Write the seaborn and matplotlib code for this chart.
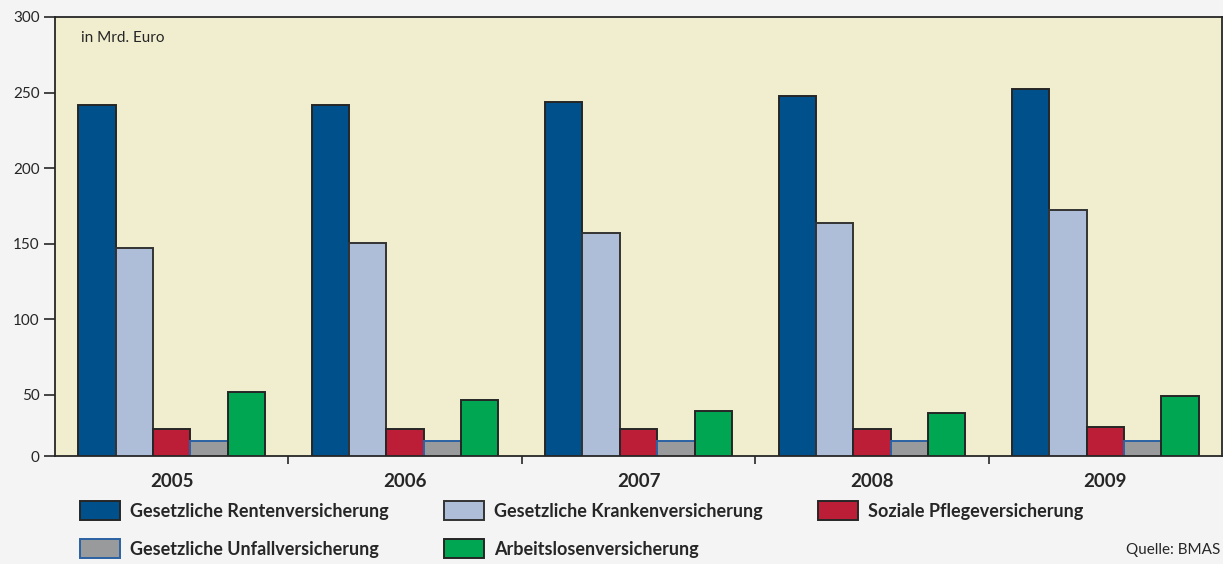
import matplotlib
matplotlib.use("Agg")
import matplotlib.pyplot as plt
import seaborn as sns
import pandas as pd
from matplotlib.patches import Patch

# values in Mrd. Euro
years = ["2005", "2006", "2007", "2008", "2009"]
rente = [242, 242, 243.5, 247.5, 252.5]
kranken = [147, 150.5, 157, 163.5, 172.5]
pflege = [27.5, 27.5, 27.5, 27.5, 29]
unfall = [19.5, 19.5, 19.5, 19.5, 19.5]
alo = [52, 46.5, 39, 38, 49.5]

series = ["Gesetzliche Rentenversicherung", "Gesetzliche Krankenversicherung",
          "Soziale Pflegeversicherung", "Gesetzliche Unfallversicherung",
          "Arbeitslosenversicherung"]
colors = ["#00508c", "#aebed9", "#bc1e38", "#999a9c", "#00a651"]
edges = ["#262626", "#333333", "#262626", "#2a62a3", "#262626"]

yticks = [50, 100, 150, 200, 250, 300]
y_base = 9.5  # the axis is cut: baseline labelled "0"

wide = pd.DataFrame({"Jahr": years, series[0]: rente, series[1]: kranken,
                     series[2]: pflege, series[3]: unfall, series[4]: alo})
df = wide.melt(id_vars="Jahr", var_name="Art", value_name="Wert")

sns.set_theme(style="white")
plt.rcParams['font.family'] = ['Lato', 'DejaVu Sans']
txt = "#262626"

fig = plt.figure(figsize=(12.23, 5.64), dpi=100, facecolor="#f3f4f3")
ax = fig.add_axes([55/1223, 108/564, 1167/1223, 439/564])
ax.set_facecolor("#f1eecf")

sns.barplot(data=df, x="Jahr", y="Wert", hue="Art", hue_order=series,
            palette=colors, saturation=1, width=0.8, edgecolor="#262626",
            linewidth=1.4, legend=False, ax=ax)
for cont, ec in zip(ax.containers, edges):
    for bar in cont:
        bar.set_edgecolor(ec)

ax.set_xlim(-0.5, 4.5)
ax.set_ylim(y_base, 300)
ax.set_yticks([y_base] + yticks)
ax.set_yticklabels(["0"] + [str(t) for t in yticks])
ax.set_xticks([0.5, 1.5, 2.5, 3.5], minor=True)
ax.set_xlabel("")
ax.set_ylabel("")

ax.tick_params(axis="y", left=True, length=8, width=1.2, color=txt, pad=3,
               labelsize=11, labelcolor=txt)
ax.tick_params(axis="x", which="major", bottom=True, length=0, pad=12,
               labelsize=13.5, labelcolor=txt)
ax.tick_params(axis="x", which="minor", bottom=True, length=6, width=1.2,
               color=txt)
for lab in ax.get_xticklabels():
    lab.set_fontweight("bold")
for s in ax.spines.values():
    s.set_color(txt)
    s.set_linewidth(1.3)

fig.text(81/1223, 1 - 38/564, "in Mrd. Euro", fontsize=11, color=txt,
         va="center", ha="left")
fig.text(1220/1223, 1 - 550/564, "Quelle: BMAS", fontsize=11, color=txt,
         va="center", ha="right")

# legend in three columns
handles = [Patch(facecolor=c, edgecolor=e, linewidth=1.4, label=s)
           for c, e, s in zip(colors, edges, series)]
cols = [([0, 3], 80), ([1, 4], 444), ([2], 818)]
for idx, x0 in cols:
    fig.legend(handles=[handles[i] for i in idx], loc="upper left",
               bbox_to_anchor=(x0/1223, 1 - 501/564), frameon=False,
               prop={"size": 13, "weight": "bold"}, labelcolor=txt,
               handlelength=2.2, handleheight=1.25, handletextpad=0.55,
               labelspacing=1.05, borderpad=0, borderaxespad=0)

fig.savefig("out.png", dpi=100, facecolor=fig.get_facecolor())
